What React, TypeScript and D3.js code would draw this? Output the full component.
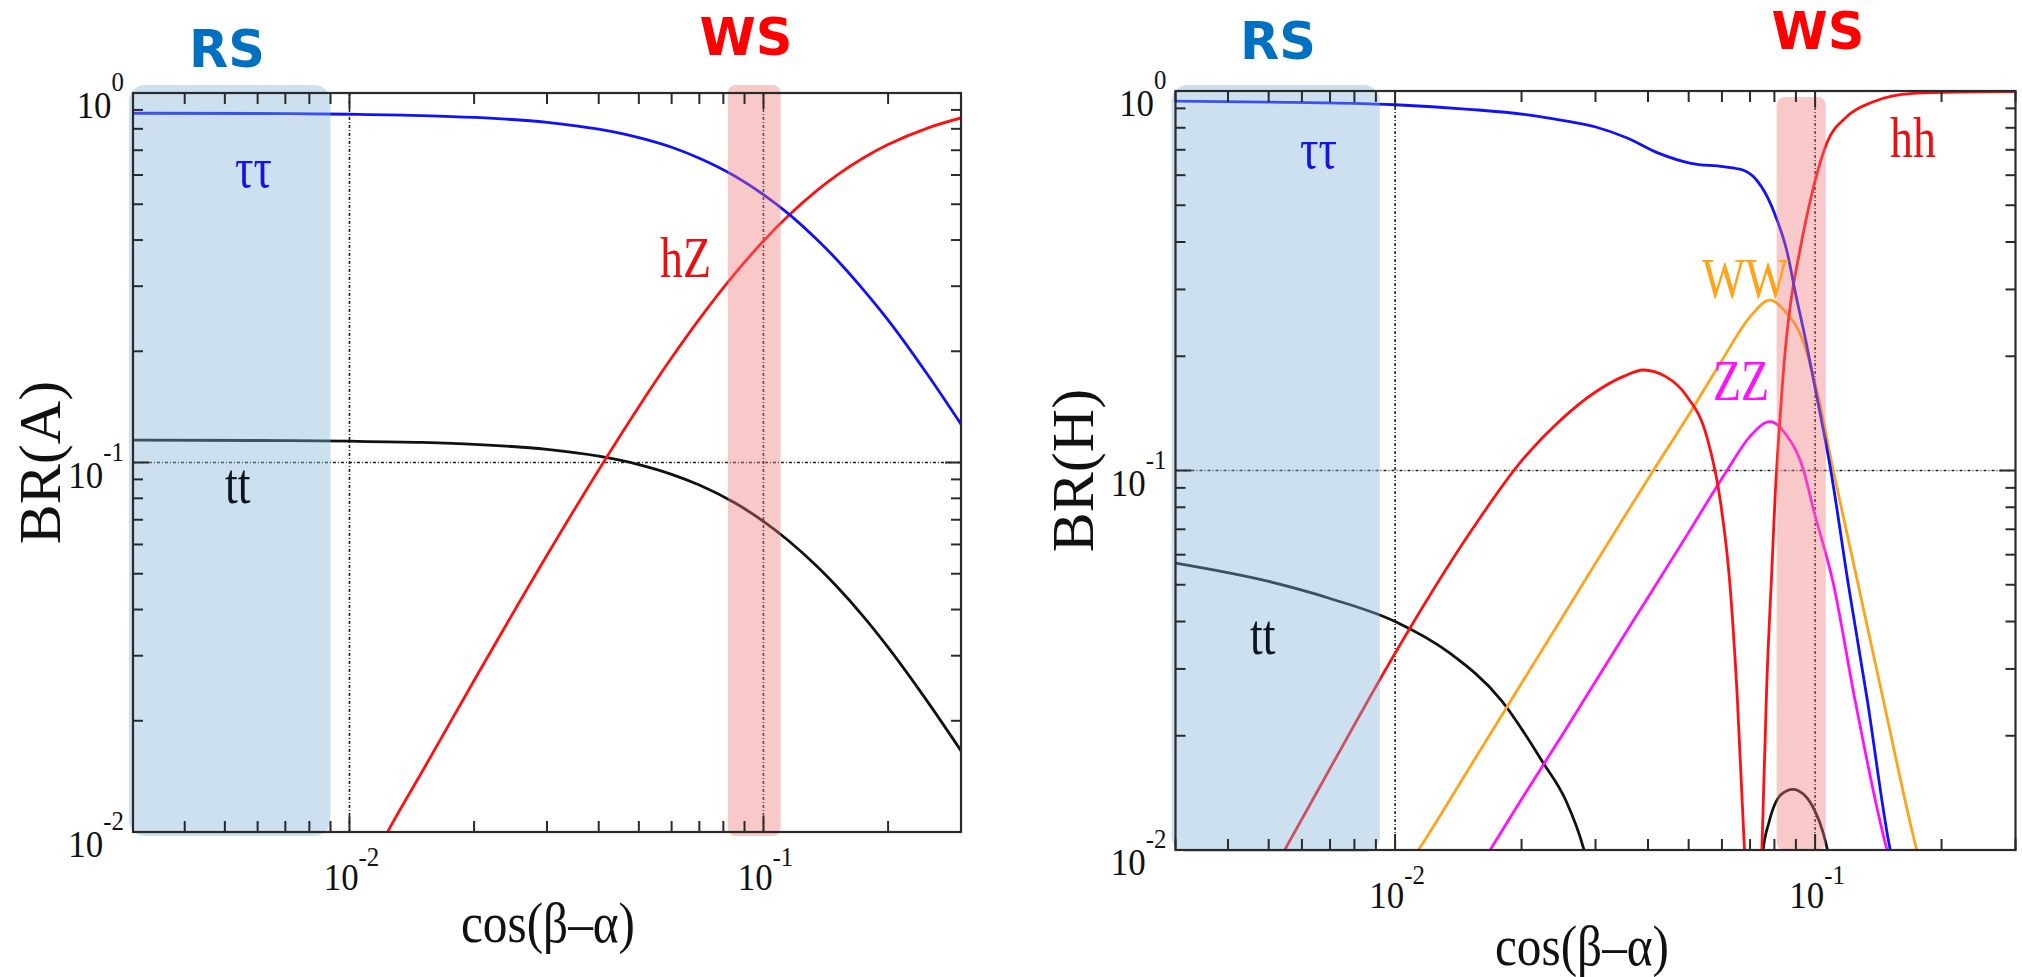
import React from "react";
import * as d3 from "d3";

type Pt = [number, number];

// axis decades shown with labels
const xDecades = [0.01, 0.1];
const xDecadeExp = ["-2", "-1"];
const yDecades = [1, 0.1, 0.01];
const yDecadeExp = ["0", "-1", "-2"];
const xDomain: [number, number] = [0.003, 0.3];
const yDomain: [number, number] = [0.01, 1];

// BR(A) vs cos(beta-alpha)
const aTauTau: Pt[] = [
  [0.003, 0.8815], [0.006, 0.88], [0.01, 0.876], [0.015, 0.869], [0.02, 0.859],
  [0.03, 0.833], [0.04, 0.798], [0.05, 0.757], [0.06, 0.713], [0.07, 0.666],
  [0.085, 0.597], [0.1, 0.531], [0.115, 0.471], [0.135, 0.4], [0.15, 0.355],
  [0.175, 0.292], [0.2, 0.243], [0.25, 0.172], [0.3, 0.127],
];
const aTT: Pt[] = [
  [0.003, 0.1149], [0.006, 0.1147], [0.01, 0.1142], [0.015, 0.1133], [0.02, 0.112],
  [0.03, 0.1085], [0.04, 0.104], [0.05, 0.0987], [0.06, 0.0929], [0.07, 0.0869],
  [0.085, 0.0779], [0.1, 0.0693], [0.115, 0.0614], [0.135, 0.0522], [0.15, 0.0463],
  [0.175, 0.0381], [0.2, 0.0316], [0.25, 0.0224], [0.3, 0.0166],
];
const aHZ: Pt[] = [
  [0.012, 0.0094], [0.0126, 0.0104], [0.015, 0.0146], [0.02, 0.0257], [0.03, 0.0561],
  [0.04, 0.0955], [0.05, 0.1416], [0.06, 0.192], [0.07, 0.2444], [0.085, 0.323],
  [0.1, 0.3976], [0.115, 0.466], [0.135, 0.546], [0.15, 0.5976], [0.175, 0.669],
  [0.2, 0.725], [0.25, 0.805], [0.3, 0.856],
];

// BR(H) vs cos(beta-alpha)
const hTauTau: Pt[] = [
  [0.003, 0.94], [0.005, 0.935], [0.01, 0.92], [0.015, 0.895], [0.0211, 0.863],
  [0.025, 0.837], [0.0299, 0.805], [0.0357, 0.752], [0.0425, 0.685], [0.0506, 0.645],
  [0.0603, 0.632], [0.067, 0.62], [0.072, 0.588], [0.077, 0.525], [0.081, 0.46],
  [0.0856, 0.38], [0.09, 0.29], [0.095, 0.22], [0.1, 0.165], [0.109, 0.1],
  [0.12, 0.05], [0.133, 0.025], [0.151, 0.01], [0.155, 0.0088],
];
const hHHLow: Pt[] = [
  [0.005, 0.0084], [0.007, 0.0164], [0.01, 0.033], [0.015, 0.068], [0.02, 0.106],
  [0.025, 0.137], [0.03, 0.161], [0.035, 0.177], [0.039, 0.184], [0.044, 0.177],
  [0.0495, 0.157], [0.0552, 0.123], [0.0594, 0.084], [0.0627, 0.05], [0.0653, 0.025],
  [0.0679, 0.01], [0.0685, 0.008],
];
const hHHHigh: Pt[] = [
  [0.0742, 0.008], [0.0747, 0.01], [0.0767, 0.027], [0.0789, 0.055], [0.0803, 0.085],
  [0.0826, 0.14], [0.085, 0.21], [0.0872, 0.27], [0.092, 0.38], [0.1, 0.58],
  [0.1066, 0.728], [0.119, 0.856], [0.1377, 0.937], [0.171, 0.986], [0.22, 0.994],
  [0.3, 0.996],
];
const hWW: Pt[] = [
  [0.0105, 0.0088], [0.01136, 0.01], [0.015, 0.0164], [0.02, 0.0275], [0.025, 0.041],
  [0.03, 0.057], [0.035, 0.075], [0.0412, 0.1], [0.05, 0.14], [0.06, 0.195],
  [0.07, 0.254], [0.0781, 0.281], [0.085, 0.262], [0.092, 0.23], [0.1009, 0.163],
  [0.1105, 0.1], [0.125, 0.0535], [0.1454, 0.0248], [0.1746, 0.01], [0.18, 0.0088],
];
const hZZ: Pt[] = [
  [0.015, 0.0082], [0.01683, 0.01], [0.02, 0.0136], [0.025, 0.0201], [0.03, 0.0278],
  [0.035, 0.0366], [0.04, 0.0463], [0.05, 0.0687], [0.0617, 0.1], [0.07, 0.123],
  [0.0781, 0.1345], [0.085, 0.125], [0.0939, 0.1], [0.0992, 0.0787], [0.1105, 0.0504],
  [0.1245, 0.0248], [0.1484, 0.01], [0.155, 0.0085],
];
const hTTLow: Pt[] = [
  [0.003, 0.057], [0.005, 0.051], [0.007, 0.046], [0.01, 0.04], [0.0135, 0.033],
  [0.0179, 0.0248], [0.0225, 0.017], [0.0255, 0.0135], [0.0281, 0.0101], [0.029, 0.0088],
];
const hTTBump: Pt[] = [
  [0.0745, 0.009], [0.0752, 0.01], [0.0776, 0.0118], [0.083, 0.014], [0.0885, 0.01445],
  [0.094, 0.014], [0.0998, 0.0127], [0.104, 0.0113], [0.107, 0.01], [0.109, 0.0088],
];

// shaded regions (cos(beta-alpha) ranges)
const rsBandA: [number, number] = [0.003, 0.009];
const wsBandA: [number, number] = [0.082, 0.11];
const rsBandH: [number, number] = [0.003, 0.0092];
const wsBandH: [number, number] = [0.081, 0.106];

const BLUE = "#1010ff";
const RED = "#ff1010";
const BLACK = "#111";
const ORANGE = "#ffa31a";
const MAGENTA = "#ff10ff";

const SERIF = "'Liberation Serif', 'Times New Roman', serif";
const SANS = "'DejaVu Sans', sans-serif";

const panels = [
  {
    id: "A",
    left: 133, right: 961, top: 93, bottom: 832,
    yTitle: "BR(A)", yTitleX: 60, xTitleX: 548, xTitleY: 942,
    rs: rsBandA, ws: wsBandA, rsBottom: 4, wsTop: -8, wsBottom: 4,
    rsText: [227, 67], wsText: [746, 55],
    series: [
      { data: aTT, color: BLACK },
      { data: aHZ, color: RED },
      { data: aTauTau, color: BLUE },
    ],
    labels: [
      { t: "ττ", x: 235, y: 187, c: "#1414e8" },
      { t: "tt", x: 225, y: 503, c: "#0c1420" },
      { t: "hZ", x: 660, y: 277, c: "#e81010" },
    ],
  },
  {
    id: "H",
    left: 1175.5, right: 2015.5, top: 91, bottom: 850,
    yTitle: "BR(H)", yTitleX: 1093, xTitleX: 1582, xTitleY: 965,
    rs: rsBandH, ws: wsBandH, rsBottom: 2, wsTop: 6, wsBottom: 0,
    rsText: [1278, 59], wsText: [1818, 49],
    series: [
      { data: hTTLow, color: BLACK },
      { data: hTTBump, color: BLACK },
      { data: hWW, color: ORANGE },
      { data: hZZ, color: MAGENTA },
      { data: hHHLow, color: RED },
      { data: hHHHigh, color: RED },
      { data: hTauTau, color: BLUE },
    ],
    labels: [
      { t: "ττ", x: 1300, y: 168, c: "#1414e8" },
      { t: "tt", x: 1250, y: 654, c: "#0c1420" },
      { t: "hh", x: 1890, y: 157, c: "#e81010" },
      { t: "WW", x: 1702, y: 298, c: "#ffa31a" },
      { t: "ZZ", x: 1713, y: 400, c: "#ff10ff" },
    ],
  },
];

type PanelDef = (typeof panels)[number];

function Panel({ p }: { p: PanelDef }) {
  const x = d3.scaleLog().domain(xDomain).range([p.left, p.right]);
  const y = d3.scaleLog().domain(yDomain).range([p.bottom, p.top]);
  const line = d3
    .line<Pt>()
    .x((d) => x(d[0]))
    .y((d) => y(d[1]))
    .curve(d3.curveMonotoneX);
  const isMajor = (v: number) => Math.abs(Math.log10(v) - Math.round(Math.log10(v))) < 1e-6;
  const xt = x.ticks().filter((v) => v >= xDomain[0] * 0.999 && v <= xDomain[1] * 1.001);
  const yt = y.ticks();
  const clipId = `clip-${p.id}`;
  const grid = { stroke: "#222", strokeWidth: 1.6, strokeDasharray: "3 2 1 2" };
  const frame = "#2a2a2a";

  return (
    <g>
      <defs>
        <clipPath id={clipId}>
          <rect x={p.left} y={p.top} width={p.right - p.left} height={p.bottom - p.top} />
        </clipPath>
      </defs>

      {/* dash-dot reference lines */}
      {xDecades.map((v) => (
        <line key={`gx${v}`} x1={x(v)} x2={x(v)} y1={p.top} y2={p.bottom} {...grid} />
      ))}
      <line x1={p.left} x2={p.right} y1={y(0.1)} y2={y(0.1)} {...grid} />

      {/* curves */}
      <g clipPath={`url(#${clipId})`}>
        {p.series.map((s, i) => (
          <path key={i} d={line(s.data) ?? ""} fill="none" stroke={s.color} strokeWidth={2.8} />
        ))}
      </g>

      {/* RS / WS shaded regions */}
      <rect
        x={x(p.rs[0]) - 4}
        y={85}
        width={x(p.rs[1]) - x(p.rs[0]) + 4}
        height={p.bottom + p.rsBottom - 85}
        rx={16}
        fill="rgb(127,177,217)"
        fillOpacity={0.4}
      />
      <rect
        x={x(p.ws[0])}
        y={p.top + p.wsTop}
        width={x(p.ws[1]) - x(p.ws[0])}
        height={p.bottom + p.wsBottom - (p.top + p.wsTop)}
        rx={8}
        fill="rgb(240,120,120)"
        fillOpacity={0.4}
      />

      {/* frame and ticks */}
      <rect x={p.left} y={p.top} width={p.right - p.left} height={p.bottom - p.top} fill="none" stroke={frame} strokeWidth={2.2} />
      {xt.map((v) => {
        const len = isMajor(v) ? 16 : 11;
        return (
          <g key={`tx${v}`} stroke={frame} strokeWidth={2}>
            <line x1={x(v)} x2={x(v)} y1={p.bottom} y2={p.bottom - len} />
            <line x1={x(v)} x2={x(v)} y1={p.top} y2={p.top + len} />
          </g>
        );
      })}
      {yt.map((v) => {
        const len = isMajor(v) ? 16 : 10;
        return (
          <g key={`ty${v}`} stroke={frame} strokeWidth={2}>
            <line x1={p.left} x2={p.left + len} y1={y(v)} y2={y(v)} />
            <line x1={p.right} x2={p.right - len} y1={y(v)} y2={y(v)} />
          </g>
        );
      })}

      {/* tick labels */}
      {xDecades.map((v, i) => (
        <text
          key={`lx${v}`}
          transform={`translate(${x(v) + 2},${p.bottom + 58}) scale(0.92,1)`}
          textAnchor="middle"
          fontFamily={SERIF}
          fontSize={38}
          fill="#111"
        >
          <tspan>10</tspan>
          <tspan dy={-24} fontSize={27}>{xDecadeExp[i]}</tspan>
        </text>
      ))}
      {yDecades.map((v, i) => (
        <text
          key={`ly${v}`}
          transform={`translate(${p.left - 9},${y(v) + 25}) scale(0.92,1)`}
          textAnchor="end"
          fontFamily={SERIF}
          fontSize={38}
          fill="#111"
        >
          <tspan>10</tspan>
          <tspan dy={-27} fontSize={27}>{yDecadeExp[i]}</tspan>
        </text>
      ))}

      {/* axis titles */}
      <text
        transform={`translate(${p.yTitleX},${(p.top + p.bottom) / 2}) rotate(-90)`}
        textAnchor="middle"
        fontFamily={SERIF}
        fontSize={60}
        fill="#111"
      >
        {p.yTitle}
      </text>
      <text
        transform={`translate(${p.xTitleX},${p.xTitleY}) scale(0.88,1)`}
        textAnchor="middle"
        fontFamily={SERIF}
        fontSize={56}
        fill="#111"
      >
        cos(β–α)
      </text>

      {/* curve labels */}
      {p.labels.map((l) => (
        <text
          key={l.t}
          transform={`translate(${l.x},${l.y}) scale(0.82,1)`}
          fontFamily={SERIF}
          fontSize={56}
          fill={l.c}
        >
          {l.t}
        </text>
      ))}

      {/* region titles */}
      <text x={p.rsText[0]} y={p.rsText[1]} textAnchor="middle" fontFamily={SANS} fontWeight="bold" fontSize={51} fill="#0070c0">
        RS
      </text>
      <text x={p.wsText[0]} y={p.wsText[1]} textAnchor="middle" fontFamily={SANS} fontWeight="bold" fontSize={51} fill="#ff0000">
        WS
      </text>
    </g>
  );
}

export default function App() {
  return (
    <svg
      width={2022}
      height={977}
      style={{ position: "absolute", left: 0, top: 0, display: "block", background: "#fff" }}
    >
      {panels.map((p) => (
        <Panel key={p.id} p={p} />
      ))}
    </svg>
  );
}
